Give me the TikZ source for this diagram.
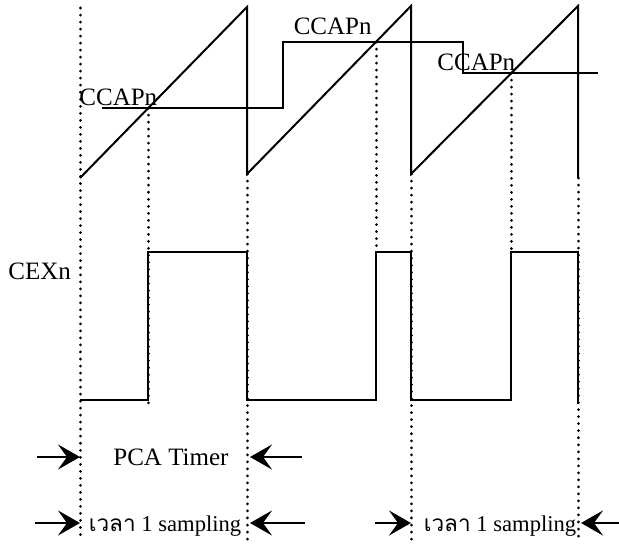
\documentclass[tikz,border=0pt]{standalone}
\usepackage{fontspec}
\setmainfont{Liberation Serif}
\newfontfamily\thaifont[Script=Thai]{Loma}
\usetikzlibrary{arrows.meta}
\tikzstyle{wave} = [line width=1pt, line join=miter]
\tikzstyle{guide} = [line width=1.5pt, line cap=round, dash pattern=on 0.01pt off 3.5pt]
\tikzstyle{spanarrow} = [line width=1pt, -{Stealth[length=11pt,width=12.5pt,inset=4.5pt]}]
\tikzstyle{txt} = [inner sep=0pt, font=\fontsize{12.5}{15}\selectfont]
\tikzstyle{smalltxt} = [inner sep=0pt, font=\fontsize{11.3}{14}\selectfont]
\newcommand{\guide}[3]{
 \draw[guide] (#1,#2) -- (#1,#3);
}
\newcommand{\gaparrow}[3]{
 \coordinate (#1 tail) at (#2);
 \coordinate (#1 tip) at (#3);
 \draw[spanarrow] (#1 tail) -- (#1 tip);
}
\begin{document}
\begin{tikzpicture}[x=0.5pt,y=-0.5pt]
    \useasboundingbox (0,0) rectangle (619,544);

    \guide{80}{8}{540}   \guide{148}{108}{407} \guide{247}{174}{540}
    \guide{376}{42}{252} \guide{411}{174}{540} \guide{511}{73}{251}
    \guide{578}{178}{540}

    % timer ramps and compare levels
    \draw[wave] (80,178) -- (247,7) -- (247,174) -- (411,6) -- (411,174) -- (578,6) -- (578,178);
    \draw[wave] (102,108) -- (283,108) -- (283,42) -- (463,42) -- (463,73) -- (598,73);
    \node[txt,anchor=base west] (ccap1) at (79,106) {CCAPn};
    \node[txt,anchor=base east] (ccap2) at (372,35) {CCAPn};
    \node[txt,anchor=base west] (ccap3) at (437,71) {CCAPn};

    % output pin
    \node[txt,anchor=base west] (cex) at (8,280) {CEXn};
    \draw[wave] (80,400) -- (148,400) -- (148,252) -- (247,252) -- (247,400) -- (376,400) -- (376,252)
     -- (411,252) -- (411,400) -- (511,400) -- (511,252) -- (578,252) -- (578,404);

    \node[txt,anchor=base west] (pca) at (113,465) {PCA Timer};
    \gaparrow{pcaL}{37,457}{80,457}  \gaparrow{pcaR}{302,457}{250,457}

    \node[smalltxt,anchor=base] (smp1) at (165,531) {{\thaifont เวลา} 1 sampling};
    \gaparrow{smp1L}{35,523}{80,523} \gaparrow{smp1R}{305,523}{250,523}
    \node[smalltxt,anchor=base] (smp2) at (500,531) {{\thaifont เวลา} 1 sampling};
    \gaparrow{smp2L}{375,523}{411,523} \gaparrow{smp2R}{619,523}{581,523}
\end{tikzpicture}
\end{document}
